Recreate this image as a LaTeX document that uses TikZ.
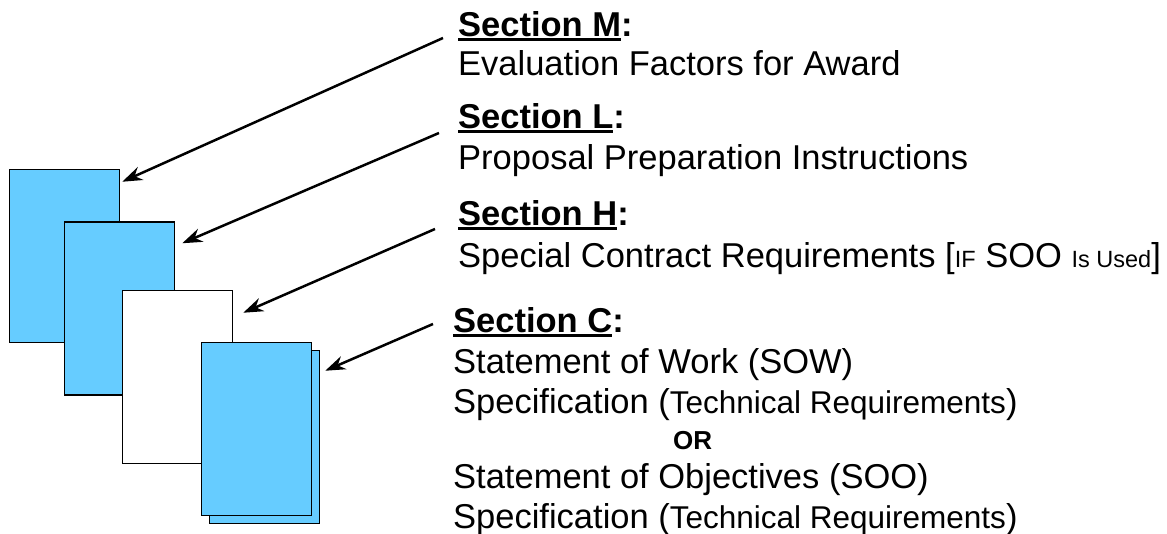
\documentclass[tikz,border=0pt]{standalone}
\usepackage{fontspec}
\setmainfont{Liberation Sans}
\usetikzlibrary{arrows.meta}
\definecolor{pageblue}{RGB}{102,204,255}
\newcommand{\secul}[1]{\setbox0\hbox{#1}\rlap{\rule[-5pt]{\wd0}{3pt}}\box0}
\newcommand{\sectitle}[1]{\textbf{\secul{Section #1}:}}
\newcommand{\smalltxt}[1]{{\fontsize{31.5}{31.5}\selectfont #1}}
\newcommand{\tinytxt}[1]{{\fontsize{23.5}{23.5}\selectfont #1}}
\tikzstyle{sheet} = [rectangle, minimum width=110pt, minimum height=173pt,
    draw=black, line width=1.5pt, fill=pageblue, inner sep=0pt]
\tikzstyle{blank} = [sheet, fill=white]
\tikzstyle{sectext} = [align=left, anchor=north west, inner sep=0pt,
    font=\fontsize{34.5}{41}\selectfont]
\tikzstyle{arrow} = [line width=2.5pt,-{Stealth[length=20pt,width=14pt]}]
\begin{document}
\begin{tikzpicture}[x=1pt, y=1pt]
\useasboundingbox (0,0) rectangle (1167,534);

% Pages
\node (sheetM) [sheet] at (64.5,278) {};
\node (sheetL) [sheet] at ([xshift=55pt,yshift=-52.5pt]sheetM) {};
\node (sheetH) [blank] at ([xshift=58pt,yshift=-68.5pt]sheetL) {};
\node (sheetCback) [sheet] at ([xshift=87pt,yshift=-60pt]sheetH) {};
\node (sheetC) [sheet] at ([xshift=-8pt,yshift=8pt]sheetCback) {};

% Sections
\node (secM) [sectext] at (458,523) {\sectitle{M}\\[-2pt]Evaluation Factors for Award};
\node (secL) [sectext] at (458,431) {\sectitle{L}\\Proposal Preparation Instructions};
\node (secH) [sectext] at (458,334) {\sectitle{H}\\[1pt]Special Contract Requirements
    [\tinytxt{IF} SOO \tinytxt{Is Used}]};
\node (secC) [sectext] at (453,227) {\sectitle{C}\\
    Statement of Work (SOW)\\[-1pt]
    Specification (\smalltxt{Technical Requirements})\\[-5pt]
    \hspace*{220pt}{\fontsize{26}{26}\selectfont\bfseries OR}\\[-2pt]
    Statement of Objectives (SOO)\\[-1pt]
    Specification (\smalltxt{Technical Requirements})};

% Arrows
\draw [arrow] ([xshift=-15pt,yshift=-27pt]secM.north west) -- ([xshift=2pt,yshift=-13pt]sheetM.north east);
\draw [arrow] ([xshift=-19pt,yshift=-30pt]secL.north west) -- ([xshift=7pt,yshift=-22pt]sheetL.north east);
\draw [arrow] ([xshift=-23pt,yshift=-29pt]secH.north west) -- ([xshift=10pt,yshift=-23pt]sheetH.north east);
\draw [arrow] ([xshift=-20pt,yshift=-17pt]secC.north west) -- ([xshift=5pt,yshift=-21pt]sheetCback.north east);

\end{tikzpicture}
\end{document}
